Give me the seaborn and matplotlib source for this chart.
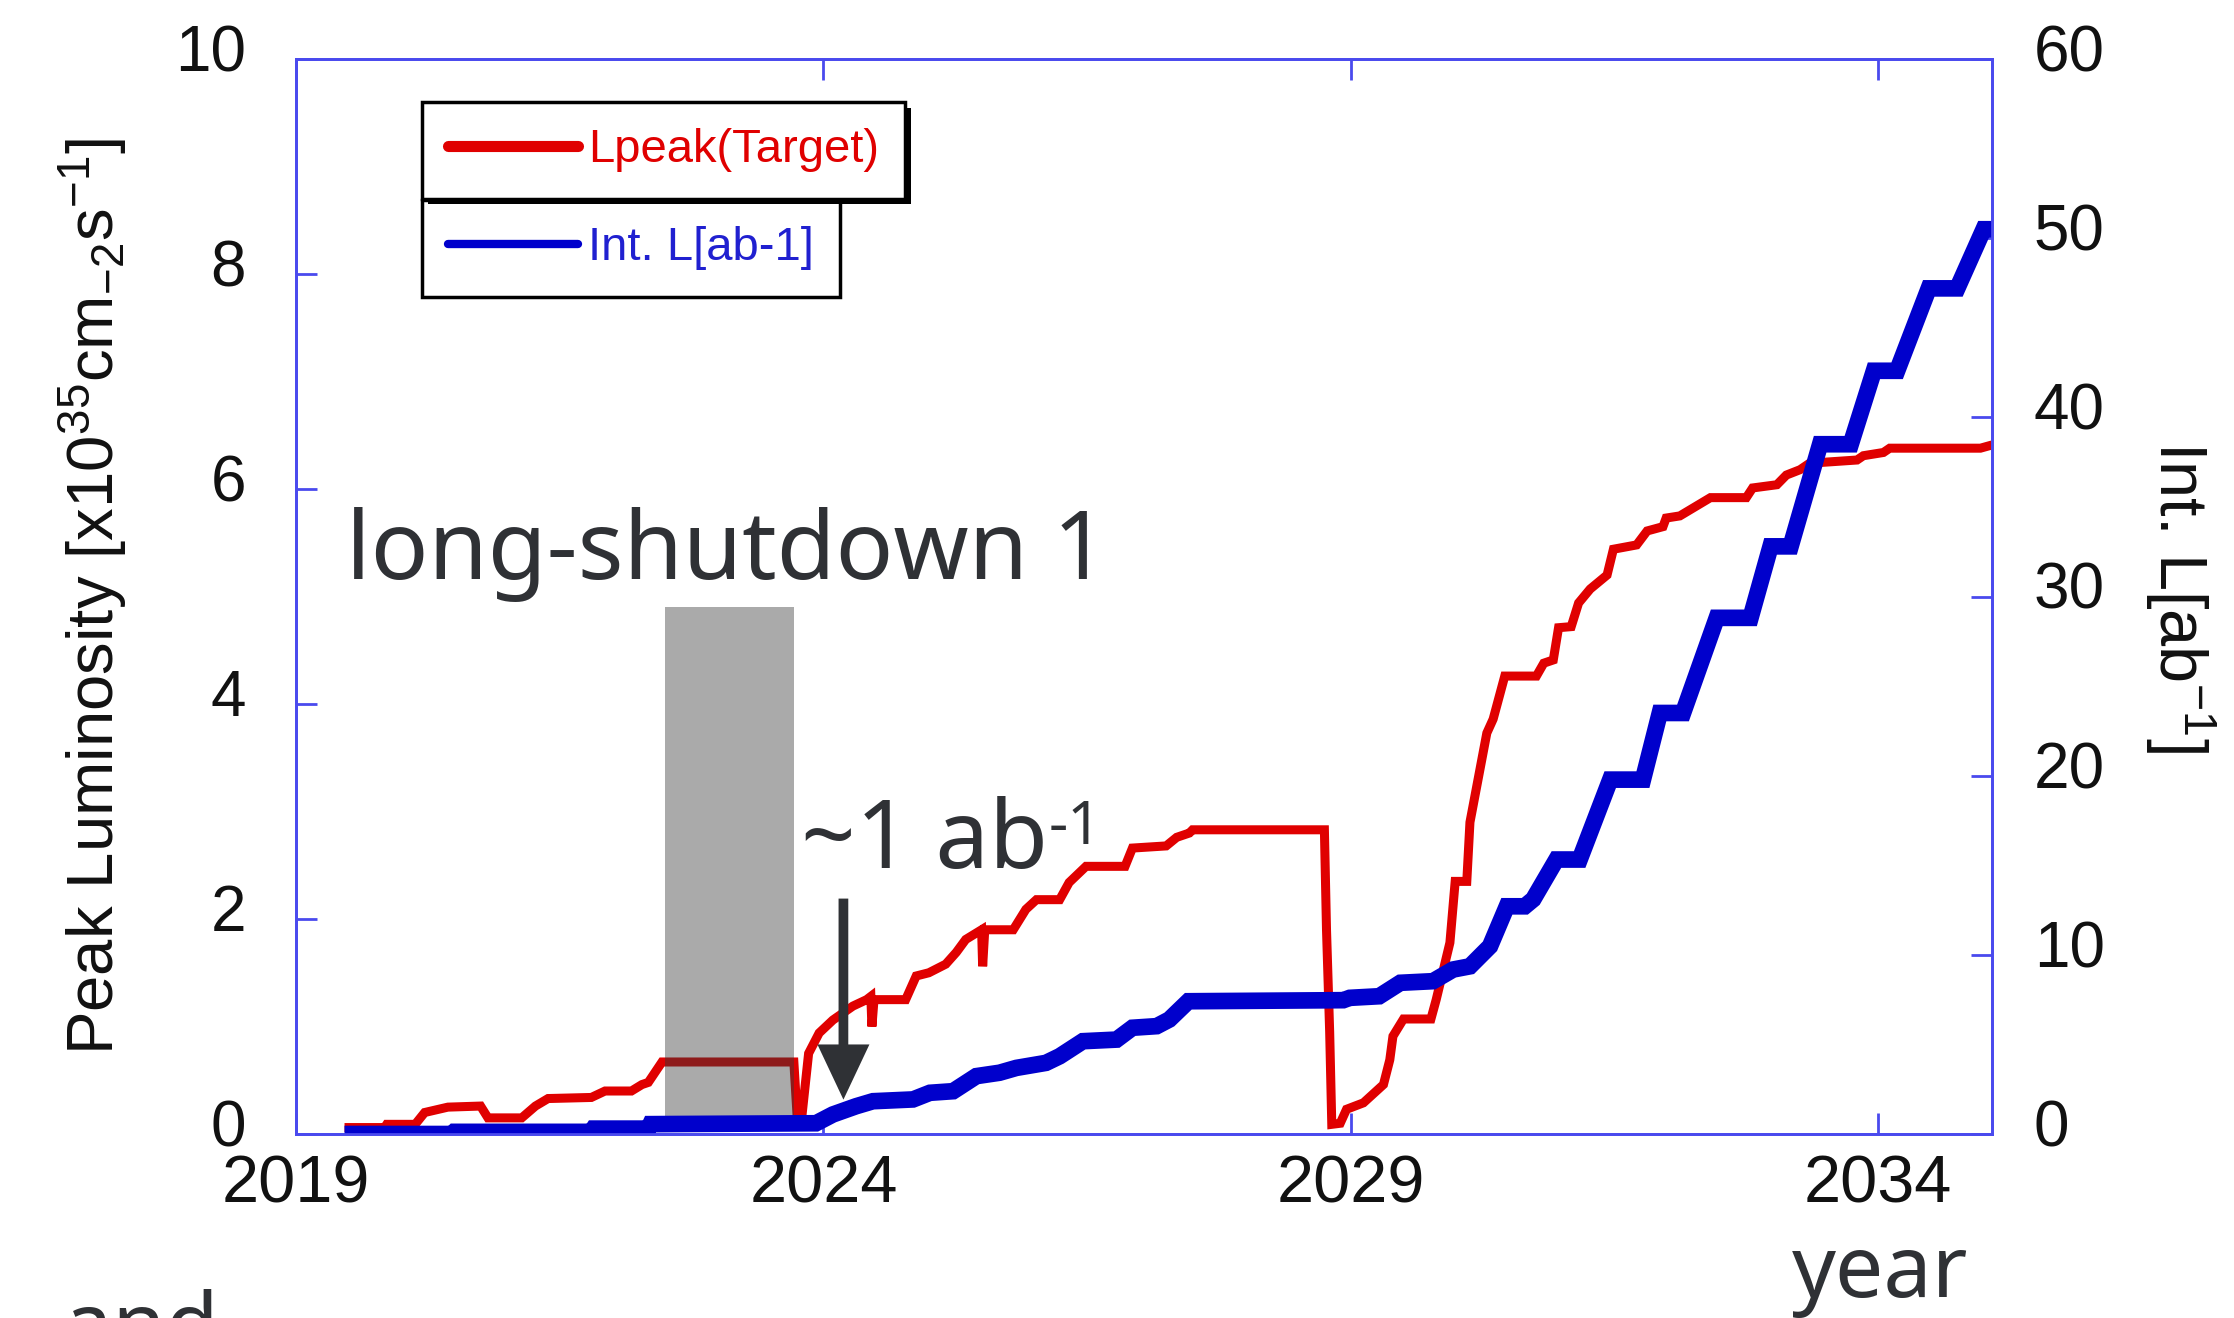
import matplotlib
matplotlib.use('Agg')
import matplotlib.pyplot as plt
import matplotlib.patheffects as pe
import matplotlib.transforms as mtransforms
from matplotlib.lines import Line2D
from matplotlib.patches import Rectangle
import seaborn as sns

# ---------------- data ----------------
# Lpeak (target), left axis, x10^35 cm^-2 s^-1
peak_year = [2019.46, 2019.84, 2019.86, 2020.13, 2020.22, 2020.44, 2020.75, 2020.82,
             2021.14, 2021.27, 2021.39, 2021.80, 2021.93, 2022.18, 2022.28, 2022.34,
             2022.47, 2023.72, 2023.75, 2023.80, 2023.86, 2023.96, 2024.09, 2024.28,
             2024.41, 2024.45, 2024.46, 2024.48, 2024.78, 2024.88, 2025.00, 2025.16,
             2025.26, 2025.35, 2025.50, 2025.51, 2025.53, 2025.80, 2025.92, 2026.02,
             2026.24, 2026.33, 2026.49, 2026.86, 2026.93, 2027.25, 2027.35, 2027.47,
             2027.50, 2028.75, 2028.77, 2028.80, 2028.82, 2028.90, 2028.96, 2029.12,
             2029.31, 2029.37, 2029.40, 2029.50, 2029.76, 2029.81, 2029.94, 2029.99,
             2030.10, 2030.13, 2030.29, 2030.35, 2030.46, 2030.76, 2030.83, 2030.92,
             2030.97, 2031.09, 2031.16, 2031.27, 2031.43, 2031.49, 2031.71, 2031.81,
             2031.96, 2031.99, 2032.12, 2032.41, 2032.75, 2032.81, 2033.04, 2033.13,
             2033.26, 2033.35, 2033.80, 2033.86, 2034.05, 2034.11, 2034.97, 2035.08]
peak_lumi = [0.06, 0.06, 0.09, 0.09, 0.20, 0.25, 0.26, 0.15,
             0.15, 0.26, 0.33, 0.34, 0.40, 0.40, 0.46, 0.48,
             0.67, 0.67, 0.18, 0.20, 0.75, 0.94, 1.06, 1.19,
             1.25, 1.28, 1.00, 1.25, 1.25, 1.47, 1.50, 1.58,
             1.69, 1.81, 1.90, 1.56, 1.90, 1.90, 2.09, 2.18,
             2.18, 2.34, 2.49, 2.49, 2.66, 2.68, 2.76, 2.80,
             2.83, 2.83, 1.90, 0.95, 0.09, 0.10, 0.23, 0.29,
             0.46, 0.69, 0.91, 1.07, 1.07, 1.25, 1.78, 2.35,
             2.35, 2.90, 3.73, 3.86, 4.26, 4.26, 4.38, 4.41,
             4.71, 4.72, 4.94, 5.07, 5.20, 5.44, 5.48, 5.61,
             5.65, 5.73, 5.75, 5.92, 5.92, 6.01, 6.04, 6.13,
             6.18, 6.24, 6.27, 6.31, 6.34, 6.38, 6.38, 6.41]

# integrated luminosity, right axis, ab^-1
int_year = [2019.46, 2020.48, 2020.50, 2021.80, 2021.82, 2022.34, 2022.36, 2023.93,
            2024.09, 2024.31, 2024.47, 2024.85, 2025.01, 2025.23, 2025.45, 2025.67,
            2025.83, 2026.11, 2026.24, 2026.46, 2026.78, 2026.93, 2027.16, 2027.28,
            2027.46, 2028.93, 2028.99, 2029.27, 2029.47, 2029.78, 2029.97, 2030.13,
            2030.32, 2030.48, 2030.65, 2030.73, 2030.95, 2031.17, 2031.46, 2031.77,
            2031.93, 2032.15, 2032.47, 2032.79, 2032.98, 2033.17, 2033.45, 2033.74,
            2033.96, 2034.18, 2034.48, 2034.75, 2035.00, 2035.08]
int_lumi = [0.0, 0.0, 0.12, 0.12, 0.30, 0.30, 0.55, 0.60,
            1.09, 1.55, 1.83, 1.93, 2.30, 2.39, 3.23, 3.42,
            3.69, 3.97, 4.34, 5.18, 5.27, 5.93, 6.02, 6.39,
            7.41, 7.47, 7.60, 7.69, 8.44, 8.53, 9.18, 9.36,
            10.48, 12.71, 12.71, 13.10, 15.32, 15.32, 19.78, 19.78,
            23.50, 23.50, 28.81, 28.81, 32.80, 32.80, 38.50, 38.50,
            42.60, 42.60, 47.20, 47.20, 50.50, 50.50]

# long-shutdown 1 box
shutdown_start, shutdown_end = 2022.50, 2023.72
shutdown_bottom, shutdown_top = 0.15, 4.90

x_ticks = [2019, 2024, 2029, 2034]
left_ticks = [0, 2, 4, 6, 8, 10]
right_ticks = [0, 10, 20, 30, 40, 50, 60]

# ---------------- style ----------------
sns.set_style('white')
plt.rcParams['font.family'] = ['Liberation Sans', 'DejaVu Sans']
plt.rcParams['mathtext.fontset'] = 'custom'
plt.rcParams['mathtext.rm'] = 'Liberation Sans'
plt.rcParams['mathtext.default'] = 'regular'

RED = '#e00000'
BLUE = '#0000cc'
FRAME = '#4a4aee'
NOTE = '#2f3135'
NOTE_FONT = ['Noto Sans', 'DejaVu Sans']

fig = plt.figure(figsize=(22.34, 13.18), dpi=100)
ax = fig.add_axes([0.1325, 0.1396, 0.7592, 0.8156])
ax2 = ax.twinx()

# red line + shutdown box
sns.lineplot(x=peak_year, y=peak_lumi, ax=ax, color=RED, linewidth=6.5,
             sort=False, estimator=None, legend=False)
rect = Rectangle((shutdown_start, shutdown_bottom), shutdown_end - shutdown_start,
                 shutdown_top - shutdown_bottom, facecolor='#aaaaaa', edgecolor='none', zorder=3)
ax.add_patch(rect)
dark = ax.plot(peak_year, peak_lumi, color='#8e1b1b', lw=6.5, zorder=4)[0]
dark.set_clip_path(rect)

# blue line
sns.lineplot(x=int_year, y=int_lumi, ax=ax2, color=BLUE, linewidth=12,
             sort=False, estimator=None, legend=False)
for ln in ax.lines + ax2.lines:
    ln.set_solid_joinstyle('miter')
    ln.set_solid_capstyle('butt')

ax.set_xlim(2019, 2035.08)
ax.set_ylim(0, 10)
ax2.set_ylim(0, 60)
ax.set_xticks(x_ticks)
ax.set_yticks(left_ticks)
ax2.set_yticks(right_ticks)
ax.set_xlabel('')

for a in (ax, ax2):
    for s in a.spines.values():
        s.set_color(FRAME)
        s.set_linewidth(2)

ax.tick_params(axis='x', direction='in', length=15, width=2, color=FRAME,
               bottom=True, top=True, labelsize=48, pad=15, labelcolor='#111111')
ax.tick_params(axis='y', direction='in', length=15, width=2, color=FRAME,
               left=True, right=False, labelsize=46, pad=36, labelcolor='#111111')
ax2.tick_params(axis='y', direction='in', length=15, width=2, color=FRAME,
                right=True, labelsize=46, pad=30, labelcolor='#111111')

# y tick labels sit a little above their ticks in the reference
lift = mtransforms.ScaledTranslation(0, 8 / 72, fig.dpi_scale_trans)
for lab in ax.get_yticklabels() + ax2.get_yticklabels():
    lab.set_transform(lab.get_transform() + lift)

ax.set_ylabel(r'Peak Luminosity [x10$^{35}$cm$_{-2}$s$^{-1}$]', fontsize=47, color='#111111')
ax.yaxis.label.set_va('center')
ax.yaxis.set_label_coords(-0.12, 0.5)
ax2.set_ylabel(r'Int. L[ab$^{-1}$]', fontsize=48, rotation=270, color='#111111')
ax2.yaxis.label.set_va('center')
ax2.yaxis.label.set_ha('center')
ax2.yaxis.set_label_coords(1.111, 0.5)

# legends (two separate boxes)
shadow = [pe.SimplePatchShadow(offset=(4, -4), shadow_rgbFace='black', alpha=1), pe.Normal()]
h1 = Line2D([], [], color=RED, lw=8)
h2 = Line2D([], [], color=BLUE, lw=6)
leg_kw = dict(loc='upper left', borderaxespad=0, fontsize=34, fancybox=False,
              edgecolor='black', framealpha=1, handlelength=2.75,
              handletextpad=0.2, borderpad=0.56)
leg1 = ax2.legend(handles=[h1], labels=['Lpeak(Target)'], bbox_to_anchor=(0.0743, 0.96),
                  labelcolor=RED, **leg_kw)
leg1.get_frame().set_linewidth(2.5)
leg1.get_frame().set_path_effects(shadow)
ax2.add_artist(leg1)
leg2 = ax2.legend(handles=[h2], labels=['Int. L[ab-1]'], bbox_to_anchor=(0.0743, 0.869),
                  labelcolor='#2020d0', **leg_kw)
leg2.get_frame().set_linewidth(2.5)
leg2.set_zorder(4)

# annotations
ax.text(2019.47, 5.16, 'long-shutdown 1', fontsize=69, color=NOTE, family=NOTE_FONT,
        ha='left', va='baseline')
t = ax.text(2023.79, 2.476, '~1 ab', fontsize=69, color=NOTE, family=NOTE_FONT,
            ha='left', va='baseline')
ax.annotate('-1', xy=(1, 0), xycoords=t, xytext=(0, 34), textcoords='offset points',
            fontsize=43, color=NOTE, family=NOTE_FONT, ha='left', va='baseline')
ax.annotate('', xy=(2024.19, 0.32), xytext=(2024.19, 2.19),
            arrowprops=dict(arrowstyle='-|>,head_length=0.7,head_width=0.33',
                            mutation_scale=40, lw=7, color=NOTE, shrinkA=0, shrinkB=0,
                            joinstyle='miter', capstyle='butt'), zorder=6)
ax.text(2033.18, -1.52, 'year', fontsize=62, color=NOTE, family=NOTE_FONT,
        ha='left', va='baseline')
fig.text(64 / 2234, 1 - 1354 / 1318, 'and', fontsize=62, color=NOTE, family=NOTE_FONT,
         ha='left', va='baseline')

fig.savefig('out.png', dpi=100, facecolor='white')
